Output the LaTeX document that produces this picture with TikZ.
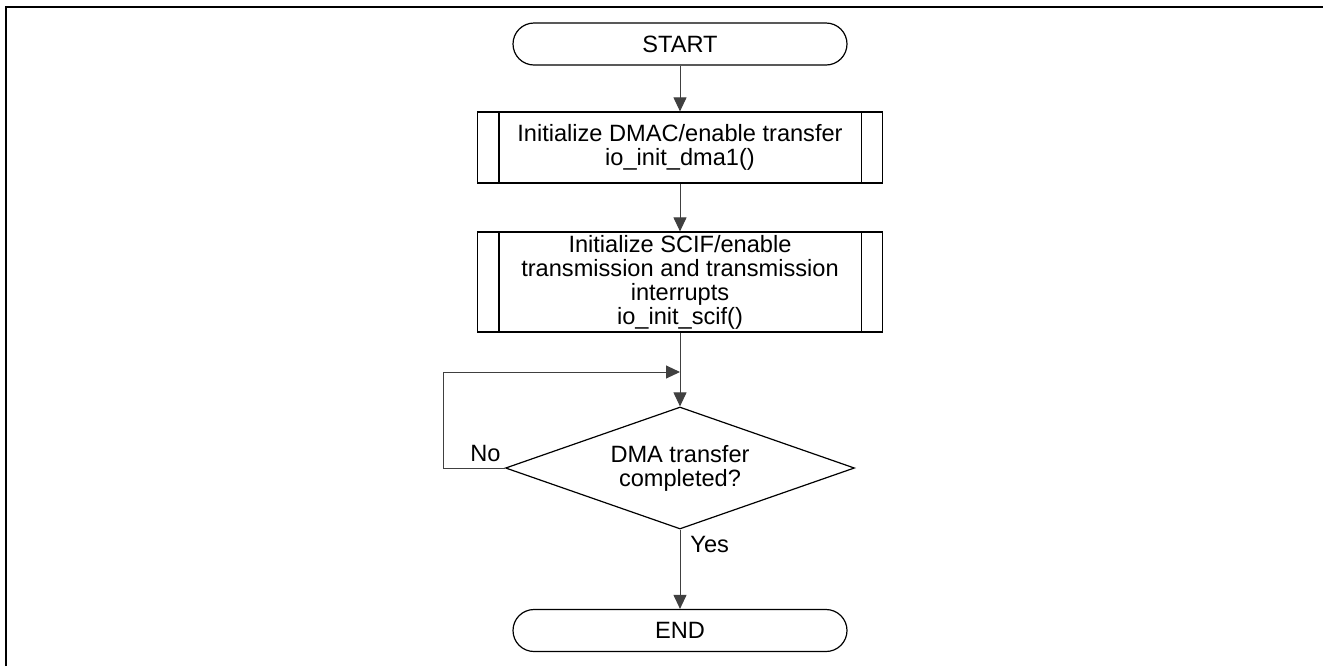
\documentclass[tikz,border=0pt]{standalone}
\usepackage{fontspec}
\setmainfont{Liberation Sans}
\usetikzlibrary{arrows.meta,shapes.geometric}

\begin{document}
\begin{tikzpicture}[x=0.5pt,y=-0.5pt,
  font=\fontsize{11.8pt}{12pt}\selectfont,
  term/.style={draw,line width=0.6pt,rounded corners=10.5pt,minimum width=167pt,minimum height=21pt,inner sep=0},
  proc/.style={draw,line width=0.6pt,minimum width=202.5pt,align=center,inner sep=0},
  chk/.style={draw,line width=0.6pt,diamond,aspect=2.86,minimum width=174.5pt,minimum height=61pt,inner sep=0,align=center},
  arr/.style={draw=black!75,line width=0.5pt,-{Triangle[length=7pt,width=6.5pt]}}]
\useasboundingbox (0,0) rectangle (1323,666);
% frame
\draw[line width=1.2pt] (6,666) -- (6,7) -- (1323,7);
% boxes
\node[term] (start) at (680,44) {START};
\node[proc,minimum height=35.5pt] (dma) at (680,147.5) {Initialize DMAC/enable transfer\\io\_init\_dma1()};
\node[proc,minimum height=50pt] (scif) at (680,282) {Initialize SCIF/enable\\transmission and transmission\\interrupts\\io\_init\_scif()};
\node[chk] (cmp) at (680,468) {DMA transfer\\completed?};
\node[term] (end) at (680,630.5) {END};
\foreach \n in {dma,scif} {
  \draw[line width=0.6pt] ([xshift=11pt]\n.north west) -- ([xshift=11pt]\n.south west);
  \draw[line width=0.6pt] ([xshift=-11pt]\n.north east) -- ([xshift=-11pt]\n.south east);
}
% connectors
\coordinate (merge) at (680,372);
\draw[arr] (start) -- (dma);
\draw[arr] (dma) -- (scif);
\draw[arr] (scif) -- (cmp);
\draw[arr] (cmp) -- (end);
\draw[arr] (cmp.west) -- ++(-61,0) |- (merge);
\node[anchor=south east,inner sep=0] (no) at ([shift={(-4,-6)}]cmp.west) {No};
\node[anchor=north west,inner sep=0] (yes) at ([shift={(10,6)}]cmp.south) {Yes};
\end{tikzpicture}
\end{document}
